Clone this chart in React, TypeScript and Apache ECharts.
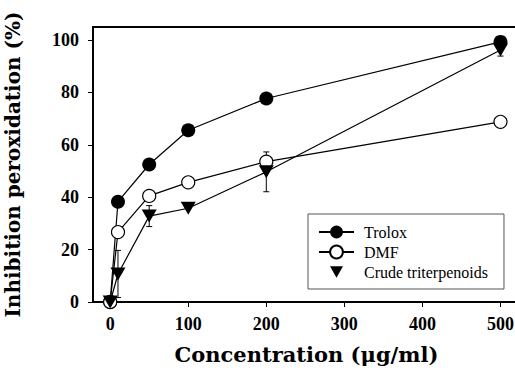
import React, { useEffect, useRef } from "react";
import * as echarts from "echarts";

const concentrations = [0, 10, 50, 100, 200, 500];
const troloxValues = [0, 38.3, 52.5, 65.6, 77.7, 99.3];
const dmfValues = [0, 26.7, 40.5, 45.7, 53.6, 68.8];
const crudeValues = [0, 10.7, 32.8, 35.8, 49.7, 96.2];
const crudeErrors = [0, 9, 4, 0, 7.6, 2.3];
const xTickValues = [0, 100, 200, 300, 400, 500];
const yTickValues = [0, 20, 40, 60, 80, 100];

const seriesNames = ["Trolox", "DMF", "Crude triterpenoids"];

export default function App() {
  const ref = useRef<HTMLDivElement>(null);

  useEffect(() => {
    if (!ref.current) return;
    const chart = echarts.init(ref.current, undefined, { renderer: "svg" });

    const pairs = (vals: number[]) => concentrations.map((c, i) => [c, vals[i]]);
    const errData = concentrations.map((c, i) => [c, crudeValues[i], crudeErrors[i]]);

    const titleFont = {
      fontFamily: "DejaVu Serif",
      fontWeight: "bold" as const,
      fontSize: 21,
      color: "#000",
    };
    const tickFont = {
      fontFamily: "Liberation Serif",
      fontWeight: "bold" as const,
      fontSize: 18,
      color: "#000",
    };

    chart.setOption({
      animation: false,
      backgroundColor: "#fff",
      grid: {
        left: 93,
        top: 27,
        bottom: 75,
        right: -5,
        containLabel: false,
        outerBoundsMode: "none",
        show: true,
        borderColor: "#000",
        borderWidth: 2,
        backgroundColor: "transparent",
      },
      legend: {
        orient: "vertical",
        left: 308,
        top: 214,
        padding: [10, 16, 9, 10],
        itemWidth: 35,
        itemHeight: 16,
        itemGap: 4,
        borderColor: "#555",
        borderWidth: 1,
        backgroundColor: "#fff",
        textStyle: {
          fontFamily: "Liberation Serif",
          fontSize: 16,
          color: "#000",
          padding: [0, 0, 0, 5],
        },
        data: [
          { name: "Trolox" },
          { name: "DMF" },
          { name: "Crude triterpenoids", icon: "path://M-1,-1.65M11,10.65M0,0L10,0L5,9Z" },
        ],
      },
      xAxis: {
        type: "value",
        min: -22,
        max: 525,
        name: "Concentration (\u03bcg/ml)",
        nameLocation: "middle",
        nameGap: 42,
        nameTextStyle: titleFont,
        splitLine: { show: false },
        axisLine: { show: true, onZero: false, lineStyle: { color: "#000", width: 2 } },
        axisTick: {
          show: true,
          inside: false,
          length: 5,
          customValues: xTickValues,
          lineStyle: { color: "#000", width: 1 },
        },
        axisLabel: { ...tickFont, margin: 13, customValues: xTickValues },
      },
      yAxis: {
        type: "value",
        min: 0,
        max: 105,
        name: "Inhibition peroxidation (%)",
        nameLocation: "middle",
        nameGap: 70,
        nameTextStyle: { ...titleFont, fontSize: 20 },
        splitLine: { show: false },
        axisLine: { show: true, onZero: false, lineStyle: { color: "#000", width: 2 } },
        axisTick: {
          show: true,
          inside: false,
          length: 5,
          customValues: yTickValues,
          lineStyle: { color: "#000", width: 1 },
        },
        axisLabel: { ...tickFont, margin: 14, customValues: yTickValues },
      },
      series: [
        {
          type: "custom",
          name: "errors",
          z: 1,
          silent: true,
          clip: false,
          data: errData,
          renderItem: (params: any, api: any) => {
            const x = api.value(0);
            const y = api.value(1);
            const e = api.value(2);
            if (!e) return null;
            const top = api.coord([x, y + e]);
            const bot = api.coord([x, y - e]);
            const cap = 3;
            const style = { stroke: "#000", lineWidth: 1 };
            return {
              type: "group",
              children: [
                { type: "line", shape: { x1: top[0], y1: top[1], x2: bot[0], y2: bot[1] }, style },
                { type: "line", shape: { x1: top[0] - cap, y1: top[1], x2: top[0] + cap, y2: top[1] }, style },
                { type: "line", shape: { x1: bot[0] - cap, y1: bot[1], x2: bot[0] + cap, y2: bot[1] }, style },
              ],
            };
          },
        },
        {
          type: "line",
          name: seriesNames[0],
          z: 3,
          data: pairs(troloxValues),
          symbol: "circle",
          symbolSize: 14,
          showAllSymbol: true,
          lineStyle: { color: "#000", width: 1.2 },
          itemStyle: { color: "#000", borderColor: "#000", borderWidth: 0 },
        },
        {
          type: "line",
          name: seriesNames[1],
          z: 4,
          data: pairs(dmfValues),
          symbol: "circle",
          symbolSize: 13,
          showAllSymbol: true,
          lineStyle: { color: "#000", width: 1.2 },
          itemStyle: { color: "#fff", borderColor: "#000", borderWidth: 1.2 },
        },
        {
          type: "line",
          name: seriesNames[2],
          z: 5,
          data: pairs(crudeValues),
          symbol: "triangle",
          symbolRotate: 180,
          symbolSize: [15, 13],
          showAllSymbol: true,
          lineStyle: { color: "#000", width: 1.2 },
          itemStyle: { color: "#000", borderWidth: 0 },
        },
      ],
    });

    return () => chart.dispose();
  }, []);

  return (
    <div
      ref={ref}
      style={{ position: "fixed", left: 0, top: 0, width: 515, height: 377, background: "#fff" }}
    />
  );
}
